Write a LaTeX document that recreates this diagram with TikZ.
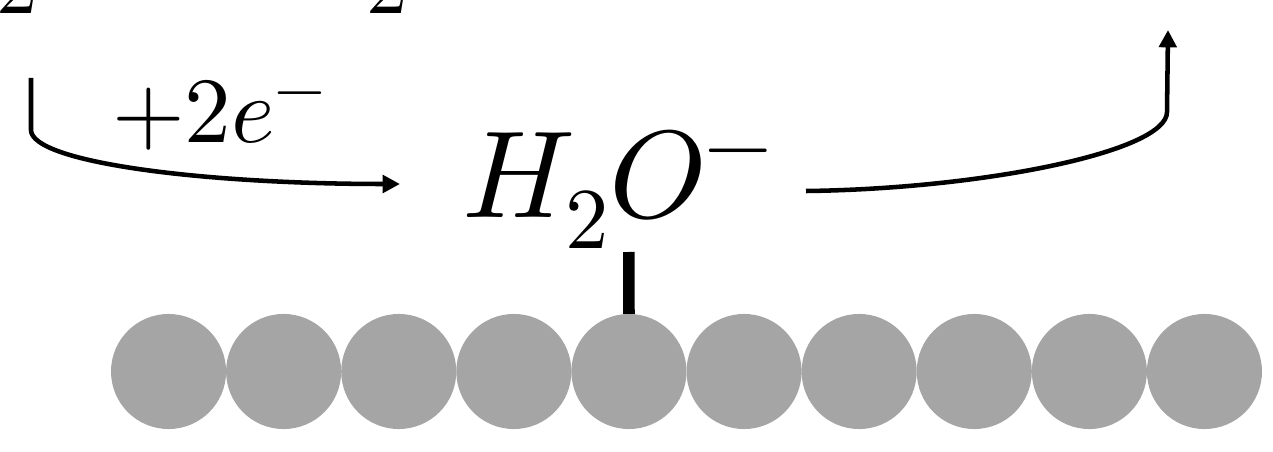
\documentclass[tikz,border=0pt]{standalone}
\usepackage{unicode-math}
\usetikzlibrary{arrows.meta}
\definecolor{beadc}{HTML}{A5A5A5}
\tikzset{
  flow/.style={line width=3.4pt, -{Triangle[length=13pt,width=13pt]}},
  lbl/.style={inner sep=0pt, outer sep=0pt},
  bead/.style={circle, fill=beadc, minimum size=86.3pt, inner sep=0pt, outer sep=0pt},
  bond/.style={line width=8.7pt},
}
\begin{document}
\begin{tikzpicture}[x=0.75pt,y=-0.75pt]
\path[use as bounding box] (0,0) rectangle (1273,452);
\clip (0,0) rectangle (1273,452);
% surface beads
\foreach \i in {1,...,10}{
  \node[bead] (b\i) at ({111+57.55+115.1*(\i-1)},371.5) {};
}
% labels
\node[lbl, anchor=base west] (h2o) at (462,218) {\fontsize{93}{93}\selectfont $H_2O^-$};
\node[lbl, anchor=base west] (plus) at (112,143) {\fontsize{70}{70}\selectfont $+2e^-$};
\node[lbl, anchor=base east] (topa) at (38,14) {\fontsize{62}{62}\selectfont $2$};
\node[lbl, anchor=base east] (topb) at (408,14) {\fontsize{62}{62}\selectfont $2$};
% connector coordinates
\coordinate (a1s) at (31,78);
\coordinate (a1e) at (400,184);
\coordinate (a2s) at (806,191);
\coordinate (a2k) at (1167,112);
\coordinate (a2e) at (1168,30);
\coordinate (bartop) at (628.8,252);
% arrows
\draw[flow] (a1s) -- (31,130) .. controls (31,162) and (200,184) .. (a1e);
\draw[flow] (a2s) .. controls (980,189) and (1167,152) .. (a2k) -- (a2e);
% bond
\draw[bond] (bartop) -- (b5.north);
\end{tikzpicture}
\end{document}
